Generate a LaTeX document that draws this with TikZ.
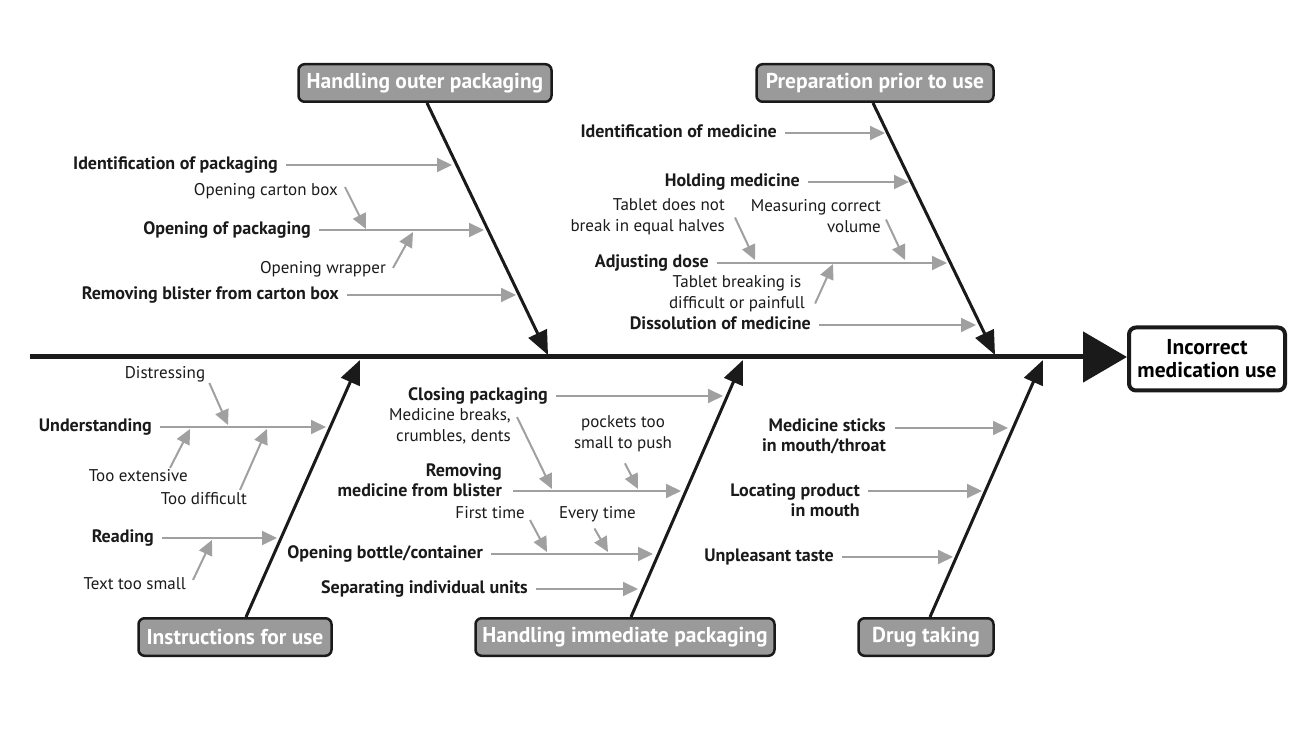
\documentclass[tikz,border=0pt]{standalone}
\usepackage{fontspec}
\setmainfont{PT Sans}
\usepackage{tikz}
\usetikzlibrary{arrows.meta}

\definecolor{boxgray}{HTML}{9A9A9A}
\definecolor{arrgray}{HTML}{A0A0A0}
\definecolor{ink}{HTML}{1A1A1A}

\begin{document}
\begin{tikzpicture}[x=1pt,y=-1pt]
\tikzstyle{cat} = [rectangle, rounded corners=6pt, draw=ink, line width=2.5pt, fill=boxgray, text=white, font=\bfseries\fontsize{21.5}{24}\selectfont, minimum height=37.5pt, inner sep=0pt]
\tikzstyle{effect} = [rectangle, rounded corners=7pt, draw=ink, line width=4pt, fill=white, align=center, font=\bfseries\fontsize{21.5}{23}\selectfont, minimum width=156pt, minimum height=63pt, inner sep=0pt]
\tikzstyle{cause} = [inner sep=0pt, text height=13pt, text depth=4pt, font=\bfseries\fontsize{18}{20}\selectfont, text=ink]
\tikzstyle{causes} = [inner sep=0pt, align=right, font=\bfseries\fontsize{18}{20}\selectfont, text=ink]
\tikzstyle{sub} = [inner sep=0pt, text height=12.5pt, text depth=4pt, font=\fontsize{17}{21}\selectfont, text=ink]
\tikzstyle{subs} = [inner sep=0pt, align=right, font=\fontsize{17}{21}\selectfont, text=ink]

\tikzstyle{spine} = [line width=5pt, draw=ink, -{Triangle[length=44pt,width=50pt]}]
\tikzstyle{bone} = [line width=3pt, draw=ink, -{Triangle[length=24pt,width=20pt]}]
\tikzstyle{arrow} = [line width=2pt, draw=arrgray, shorten <=8pt, -{Triangle[length=15pt,width=14pt]}]
\tikzstyle{subarrow} = [line width=2pt, draw=arrgray, -{Triangle[length=15pt,width=14pt]}]

\useasboundingbox (0,0) rectangle (1302,743);

% effect and spine
\node (eff) [effect] at (1207,359) {Incorrect\\medication use};
\coordinate (tail) at (30,357);
\draw [spine] (tail) -- (tail -| eff.west);

% categories
\node (hop) [cat, minimum width=253pt] at (425,83) {Handling outer packaging};
\node (ppu) [cat, minimum width=237pt] at (875,83) {Preparation prior to use};
\node (ifu) [cat, minimum width=193pt] at (235,637) {Instructions for use};
\node (hip) [cat, minimum width=299pt] at (625,637) {Handling immediate packaging};
\node (drt) [cat, minimum width=135pt] at (926,637) {Drug taking};

\coordinate (t1) at (548,355);
\coordinate (t2) at (995,355);
\coordinate (t3) at (360,360);
\coordinate (t4) at (743,360);
\coordinate (t5) at (1043,360);

\draw [bone] ([xshift=2pt]hop.south) -- (t1);
\draw [bone] ([xshift=-2pt]ppu.south) -- (t2);
\draw [bone] ([xshift=11pt]ifu.north) -- (t3);
\draw [bone] ([xshift=6pt]hip.north) -- (t4);
\draw [bone] ([xshift=4pt]drt.north) -- (t5);

% handling outer packaging
\node (idpk) [cause, anchor=east] at (278,165) {Identification of packaging};
\node (opk) [cause, anchor=east] at (311,230) {Opening of packaging};
\node (rbl) [cause, anchor=east] at (339,295) {Removing blister from carton box};
\node (ocb) [sub, anchor=east] at (338,191) {Opening carton box};
\node (owr) [sub, anchor=east] at (386,269) {Opening wrapper};
\coordinate (idpk-e) at (452,165);
\coordinate (opk-e) at (484,230);
\coordinate (rbl-e) at (516,295);
\coordinate (ocb-e) at (366,229);
\coordinate (owr-e) at (413,232);
\draw [arrow] (idpk) -- (idpk-e);
\draw [arrow] (opk) -- (opk-e);
\draw [arrow] (rbl) -- (rbl-e);
\draw [subarrow] ([shift={(7,-4)}]ocb.east) -- (ocb-e);
\draw [subarrow] ([shift={(7,-1)}]owr.east) -- (owr-e);

% preparation prior to use
\node (idm) [cause, anchor=east] at (777,133) {Identification of medicine};
\node (hmd) [cause, anchor=east] at (800,182) {Holding medicine};
\node (adj) [cause, anchor=east] at (709,263) {Adjusting dose};
\node (dis) [cause, anchor=east] at (811,325) {Dissolution of medicine};
\node (tdn) [subs, anchor=east] at (725,216.5) {Tablet does not\\break in equal halves};
\node (mcv) [subs, anchor=east] at (881,216.5) {Measuring correct\\volume};
\node (tbd) [subs, align=center] at (737,293.5) {Tablet breaking is\\difficult or painfull};
\coordinate (idm-e) at (885,133);
\coordinate (hmd-e) at (909,182);
\coordinate (adj-e) at (947,263);
\coordinate (dis-e) at (976,325);
\coordinate (tdn-e) at (755,260);
\coordinate (mcv-e) at (905,260);
\coordinate (tbd-e) at (833,264);
\draw [arrow] (idm) -- (idm-e);
\draw [arrow] (hmd) -- (hmd-e);
\draw [arrow] (adj) -- (adj-e);
\draw [arrow] (dis) -- (dis-e);
\draw [subarrow] ([shift={(10,1)}]tdn.east) -- (tdn-e);
\draw [subarrow] ([shift={(5,3)}]mcv.east) -- (mcv-e);
\draw [subarrow] ([shift={(10,10)}]tbd.east) -- (tbd-e);

% instructions for use
\node (und) [cause, anchor=east] at (152,427) {Understanding};
\node (rea) [cause, anchor=east] at (154,538) {Reading};
\node (dst) [sub] at (165,374) {Distressing};
\node (tex) [sub, anchor=east] at (188,477) {Too extensive};
\node (tdf) [sub, anchor=east] at (247,500) {Too difficult};
\node (tts) [sub, anchor=east] at (186,585) {Text too small};
\coordinate (und-e) at (326,427);
\coordinate (rea-e) at (277,538);
\coordinate (dst-e) at (228,425);
\coordinate (tex-e) at (190,429);
\coordinate (tdf-e) at (267,429);
\coordinate (tts-e) at (212,540);
\draw [arrow] (und) -- (und-e);
\draw [arrow] (rea) -- (rea-e);
\draw [subarrow] ([shift={(4,9)}]dst.east) -- (dst-e);
\draw [subarrow] ([shift={(-18,-9)}]tex.east) -- (tex-e);
\draw [subarrow] ([shift={(-7,-10)}]tdf.east) -- (tdf-e);
\draw [subarrow] ([shift={(7,-5)}]tts.east) -- (tts-e);

% handling immediate packaging
\node (clp) [cause, anchor=east] at (548,396) {Closing packaging};
\node (rmb) [causes, anchor=east] at (502,480) {Removing\\medicine from blister};
\node (obc) [cause, anchor=east] at (483,554) {Opening bottle/container};
\node (siu) [cause, anchor=east] at (528,589) {Separating individual units};
\node (mbc) [subs, anchor=east] at (511,426) {Medicine breaks,\\crumbles, dents};
\node (ptt) [subs, align=center] at (623,434) {pockets too\\small to push};
\node (ft) [sub, anchor=east] at (525,514) {First time};
\node (et) [sub, anchor=east] at (636,514) {Every time};
\coordinate (clp-e) at (723,396);
\coordinate (rmb-e) at (681,491);
\coordinate (obc-e) at (653,554);
\coordinate (siu-e) at (638,589);
\coordinate (mbc-e) at (552,489);
\coordinate (ptt-e) at (638,489);
\coordinate (ft-e) at (547,552);
\coordinate (et-e) at (608,552);
\draw [arrow] (clp) -- (clp-e);
\draw [arrow, shorten <=0pt] ([shift={(11,11)}]rmb.east) -- (rmb-e);
\draw [arrow] (obc) -- (obc-e);
\draw [arrow] (siu) -- (siu-e);
\draw [subarrow] ([shift={(6,-9)}]mbc.east) -- (mbc-e);
\draw [subarrow] ([shift={(2,11)}]ptt.south) -- (ptt-e);
\draw [subarrow] ([shift={(5,6)}]ft.east) -- (ft-e);
\draw [subarrow] ([shift={(-3,6)}]et.south) -- (et-e);

% drug taking
\node (mst) [causes, anchor=east] at (886,436) {Medicine sticks\\in mouth/throat};
\node (lpm) [causes, anchor=east] at (860,500) {Locating product\\in mouth};
\node (upt) [cause, anchor=east] at (834,557) {Unpleasant taste};
\coordinate (mst-e) at (1008,428);
\coordinate (lpm-e) at (982,491);
\coordinate (upt-e) at (953,557);
\draw [arrow, shorten <=0pt] ([shift={(9,-8)}]mst.east) -- (mst-e);
\draw [arrow, shorten <=0pt] ([shift={(8,-9)}]lpm.east) -- (lpm-e);
\draw [arrow] (upt) -- (upt-e);

\end{tikzpicture}
\end{document}
